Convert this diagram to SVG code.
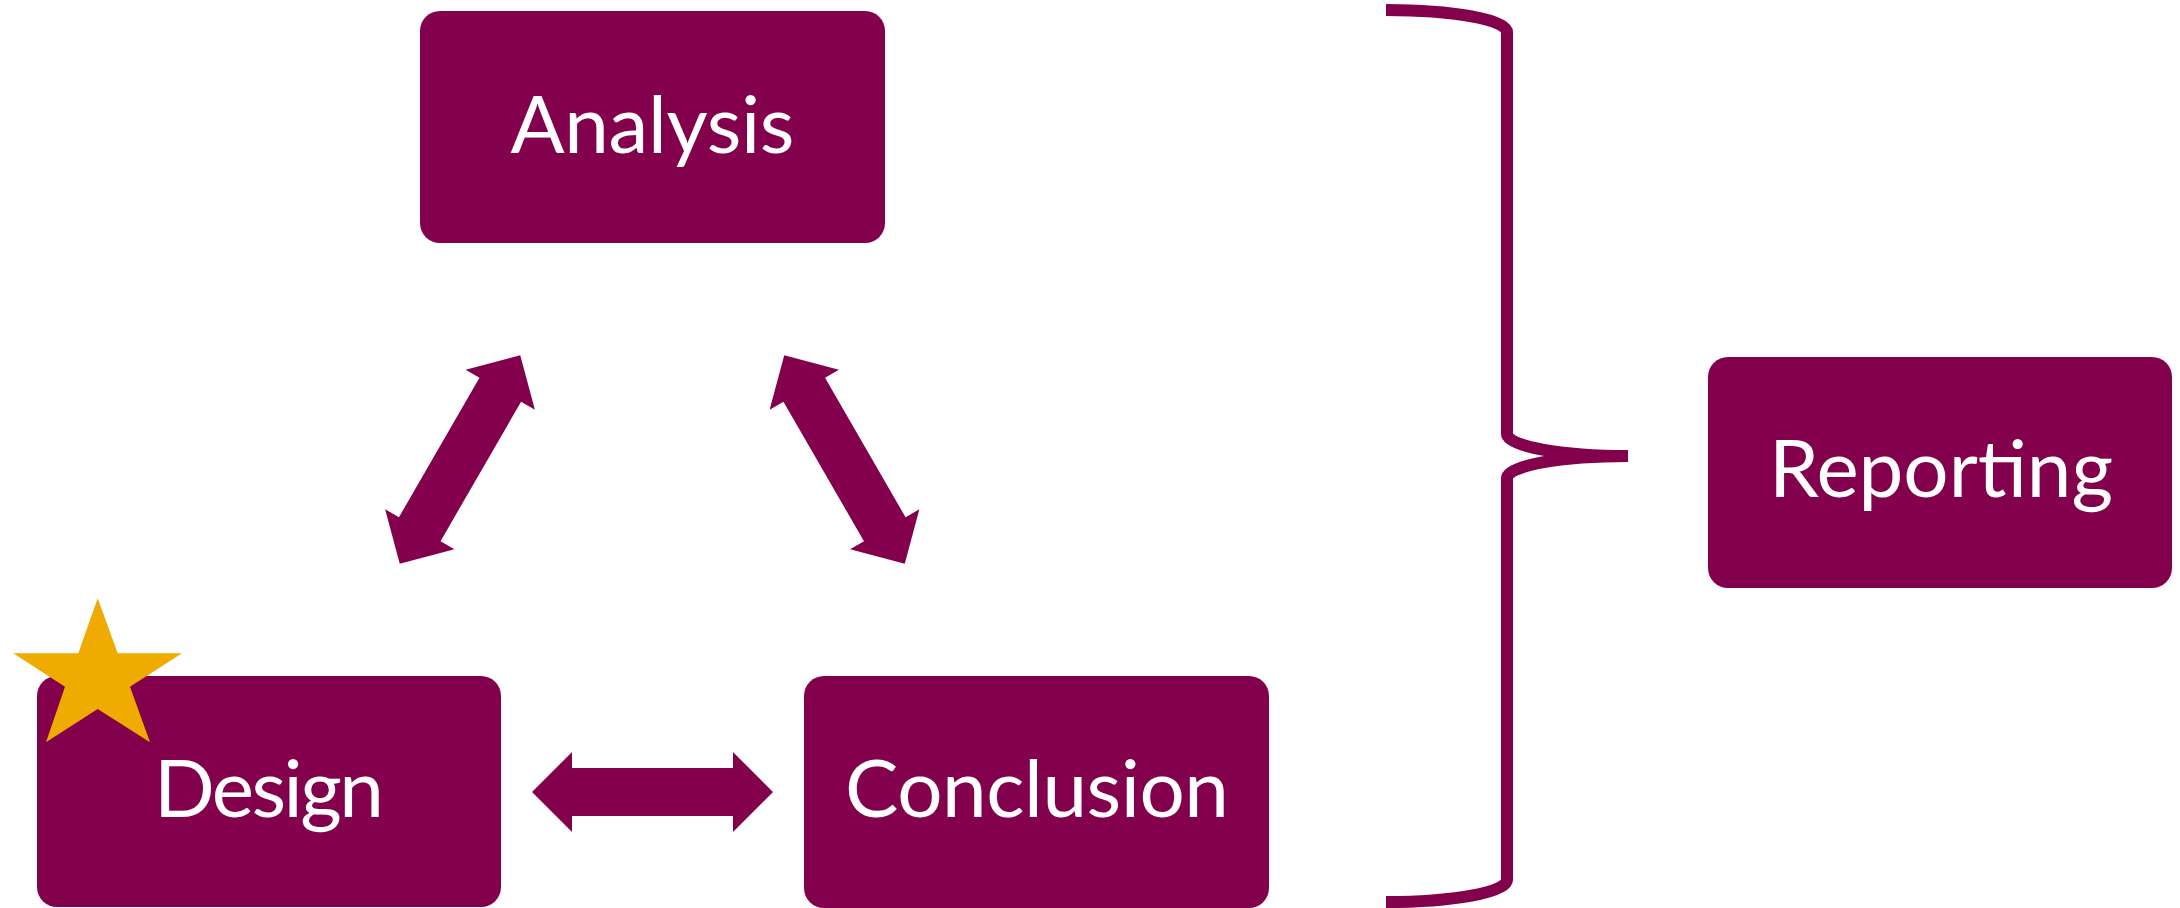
<svg xmlns="http://www.w3.org/2000/svg" xmlns:xlink="http://www.w3.org/1999/xlink" width="2180" height="908" viewBox="0 0 2180 908">
  <style>
    .box { fill: #83004D; }
    .label { fill: #FFFFFF; font-family: Lato, "Open Sans", "Liberation Sans", sans-serif; font-size: 80px; text-anchor: middle; }
    .arrow { fill: #83004D; }
    .brace { fill: none; stroke: #83004D; stroke-width: 12; stroke-linecap: butt; }
    .star { fill: #F0AB00; }
  </style>
  <defs>
    <!-- double-headed block arrow, centred on the origin, pointing along x -->
    <path id="dbl-arrow" d="M -120.5 0 L -80.5 -40 L -80.5 -24 L 80.5 -24 L 80.5 -40 L 120.5 0 L 80.5 40 L 80.5 24 L -80.5 24 L -80.5 40 Z"/>
  </defs>
  <rect width="2180" height="908" fill="#FFFFFF"/>

  <g id="connectors">
    <use xlink:href="#dbl-arrow" class="arrow" transform="translate(460,459.5) rotate(-60)"/>
    <use xlink:href="#dbl-arrow" class="arrow" transform="translate(844.5,459.5) rotate(60)"/>
    <use xlink:href="#dbl-arrow" class="arrow" transform="translate(652.5,792)"/>
    <!-- right curly brace grouping the cycle -->
    <path class="brace" d="M 1386 10 A 121 22 0 0 1 1507 32 L 1507 434 A 121 22 0 0 0 1628 456"/>
    <path class="brace" d="M 1628 456 A 121 22 0 0 0 1507 478 L 1507 880 A 121 22 0 0 1 1386 902"/>
  </g>

  <g id="analysis">
    <rect class="box" x="420" y="11" width="465" height="232" rx="20" ry="20"/>
    <text class="label" x="652.5" y="153" textLength="284">Analysis</text>
  </g>

  <g id="reporting">
    <rect class="box" x="1708" y="357" width="464" height="231" rx="20" ry="20"/>
    <text class="label" x="1941" y="497" textLength="344">Reporting</text>
  </g>

  <g id="design">
    <rect class="box" x="37" y="676" width="464" height="231" rx="20" ry="20"/>
    <text class="label" x="269" y="817" textLength="230">Design</text>
    <polygon class="star" points="97.7,598.3 117.7,653.3 182,653.3 130,686.7 150,742.3 97.7,709 46,742.3 65,686.7 13.3,653.3 78.3,653.3"/>
  </g>

  <g id="conclusion">
    <rect class="box" x="804" y="676" width="465" height="232" rx="20" ry="20"/>
    <text class="label" x="1037" y="817" textLength="384">Conclusion</text>
  </g>
</svg>
